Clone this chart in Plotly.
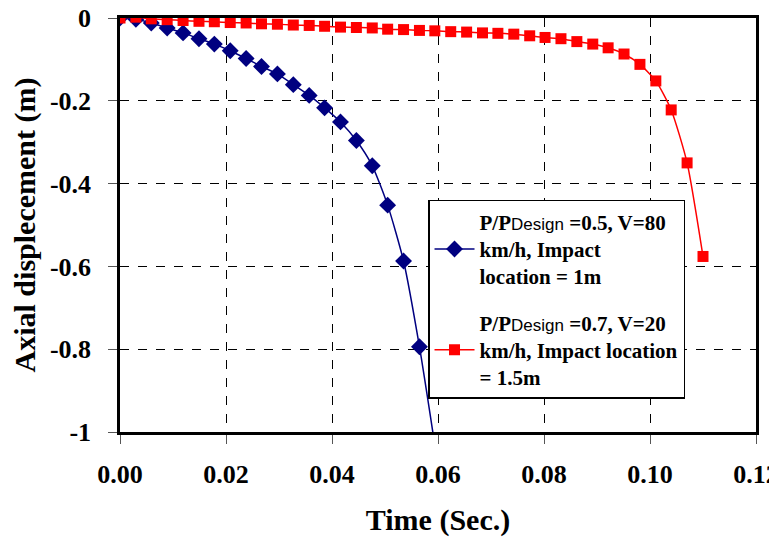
import plotly.graph_objects as go

# Series 1: P/PDesign = 0.5, V=80 km/h, impact location = 1 m
blue_t = [0.0, 0.003, 0.0059, 0.0089, 0.0119, 0.0149, 0.0178, 0.0208, 0.0238, 0.0267,
          0.0297, 0.0327, 0.0357, 0.0386, 0.0416, 0.0446, 0.0476, 0.0505, 0.0535, 0.0565, 0.0595]
blue_y = [0.0, -0.003, -0.012, -0.024, -0.036, -0.05, -0.063, -0.079, -0.098, -0.117,
          -0.135, -0.161, -0.187, -0.217, -0.251, -0.296, -0.357, -0.452, -0.587, -0.794, -1.04]

# Series 2: P/PDesign = 0.7, V=20 km/h, impact location = 1.5 m
red_t = [0.0, 0.003, 0.0059, 0.0089, 0.0119, 0.0149, 0.0178, 0.0208, 0.0238, 0.0267,
         0.0297, 0.0327, 0.0357, 0.0386, 0.0416, 0.0446, 0.0476, 0.0505, 0.0535, 0.0565,
         0.0594, 0.0624, 0.0654, 0.0684, 0.0713, 0.0743, 0.0773, 0.0802, 0.0832, 0.0862,
         0.0892, 0.0921, 0.0951, 0.0981, 0.1011, 0.104, 0.107, 0.110]
red_y = [0.0, 0.002, -0.002, -0.004, -0.006, -0.008, -0.009, -0.011, -0.012, -0.014,
         -0.015, -0.017, -0.018, -0.02, -0.022, -0.023, -0.024, -0.027, -0.028, -0.03,
         -0.031, -0.033, -0.034, -0.036, -0.037, -0.039, -0.043, -0.047, -0.05, -0.057,
         -0.063, -0.072, -0.087, -0.112, -0.152, -0.222, -0.35, -0.576]

x_ticks = [0.0, 0.02, 0.04, 0.06, 0.08, 0.10, 0.12]
x_tick_labels = ["0.00", "0.02", "0.04", "0.06", "0.08", "0.10", "0.12"]
y_ticks = [0, -0.2, -0.4, -0.6, -0.8, -1]
y_tick_labels = ["0", "-0.2", "-0.4", "-0.6", "-0.8", "-1"]

name_blue = ("P/P<span style='font-family:Liberation Sans;font-size:17px;font-weight:normal'>Design</span>"
             " =0.5, V=80<br>km/h, Impact<br>location = 1m")
name_red = ("P/P<span style='font-family:Liberation Sans;font-size:17px;font-weight:normal'>Design</span>"
            " =0.7, V=20<br>km/h, Impact location<br>= 1.5m")

SERIF = "Liberation Serif"

fig = go.Figure()
fig.add_trace(go.Scatter(
    x=blue_t, y=blue_y, mode="lines+markers", name=name_blue, legendgroup="a",
    line=dict(color="#000080", width=1.5, shape="spline", smoothing=0.6),
    marker=dict(symbol="diamond", size=13, color="#000080"),
))
fig.add_trace(go.Scatter(
    x=red_t, y=red_y, mode="lines+markers", name=name_red, legendgroup="b",
    line=dict(color="#FF0000", width=1.5, shape="spline", smoothing=0.6),
    marker=dict(symbol="square", size=11, color="#FF0000"),
))

# the page body adds an 8 px offset, so the figure is 8 px smaller and shifted margins
fig.update_layout(
    width=769, height=534,
    margin=dict(l=112, r=21, t=10, b=110),
    paper_bgcolor="white", plot_bgcolor="white",
    font=dict(family=SERIF, color="black"),
    legend=dict(
        x=0.4843, y=0.5604, xanchor="left", yanchor="top",
        bgcolor="white", bordercolor="black", borderwidth=1.5,
        font=dict(family=SERIF, size=21, color="black", weight="bold"),
        tracegroupgap=16, traceorder="grouped", itemwidth=40,
    ),
    xaxis=dict(
        range=[0, 0.12], tickvals=x_ticks, ticktext=x_tick_labels,
        showline=True, linecolor="black", linewidth=2.5, mirror=True,
        ticks="outside", ticklen=9, tickcolor="#555", tickwidth=1,
        showgrid=True, gridcolor="black", gridwidth=1, griddash="dash",
        zeroline=False, automargin=False, ticklabelstandoff=8,
        ticklabeloverflow="allow",
        tickfont=dict(family=SERIF, size=26, weight="bold"),
        title=dict(text="Time (Sec.)", font=dict(family=SERIF, size=30, weight="bold"), standoff=22),
    ),
    yaxis=dict(
        range=[-1, 0], tickvals=y_ticks, ticktext=y_tick_labels,
        showline=True, linecolor="black", linewidth=2.5, mirror=True,
        ticks="outside", ticklen=9, tickcolor="#555", tickwidth=1,
        showgrid=True, gridcolor="black", gridwidth=1, griddash="dash",
        zeroline=False, automargin=False, ticklabelstandoff=12,
        ticklabeloverflow="allow",
        tickfont=dict(family=SERIF, size=26, weight="bold"),
        title=dict(text="Axial displecement (m)", font=dict(family=SERIF, size=30, weight="bold"), standoff=12),
    ),
    yaxis2=dict(
        range=[-1, 0], tickvals=y_ticks, overlaying="y", side="left",
        ticks="inside", ticklen=8, tickcolor="#555", tickwidth=1,
        showticklabels=False, showgrid=False, showline=False, zeroline=False,
    ),
)

fig.write_html("out.html")
